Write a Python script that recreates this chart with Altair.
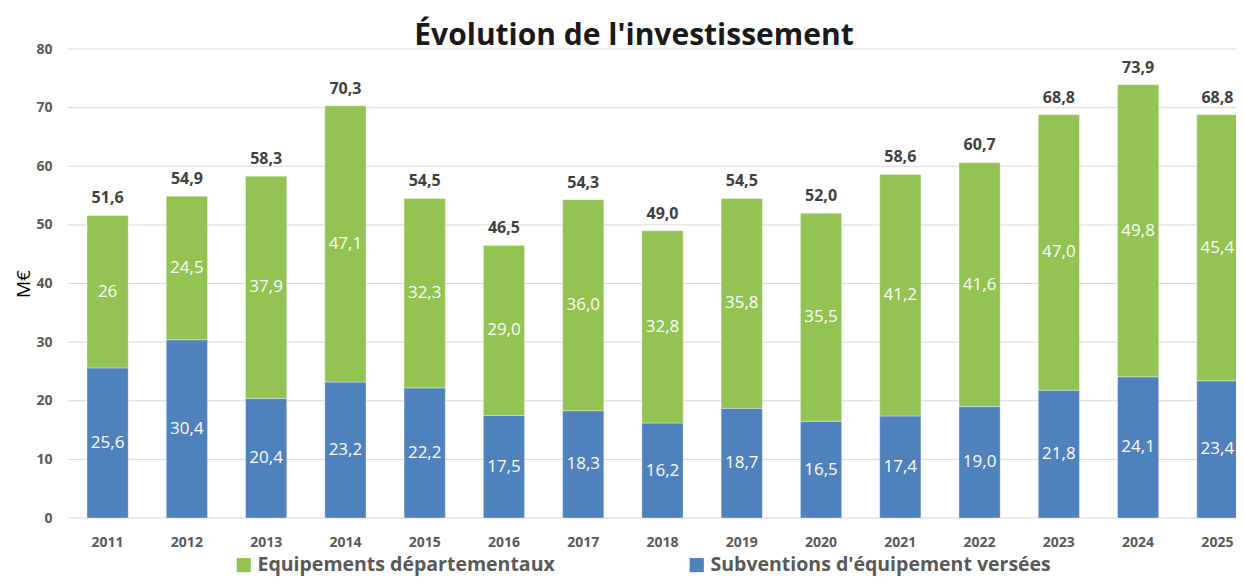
import altair as alt
import pandas as pd

years = [str(y) for y in range(2011, 2026)]
subventions = [25.6, 30.4, 20.4, 23.2, 22.2, 17.5, 18.3, 16.2, 18.7, 16.5, 17.4, 19.0, 21.8, 24.1, 23.4]
equipements = [26.0, 24.5, 37.9, 47.1, 32.3, 29.0, 36.0, 32.8, 35.8, 35.5, 41.2, 41.6, 47.0, 49.8, 45.4]
totals = [51.6, 54.9, 58.3, 70.3, 54.5, 46.5, 54.3, 49.0, 54.5, 52.0, 58.6, 60.7, 68.8, 73.9, 68.8]
sub_labels = ["25,6", "30,4", "20,4", "23,2", "22,2", "17,5", "18,3", "16,2", "18,7", "16,5", "17,4", "19,0", "21,8", "24,1", "23,4"]
equip_labels = ["26", "24,5", "37,9", "47,1", "32,3", "29,0", "36,0", "32,8", "35,8", "35,5", "41,2", "41,6", "47,0", "49,8", "45,4"]
total_labels = ["51,6", "54,9", "58,3", "70,3", "54,5", "46,5", "54,3", "49,0", "54,5", "52,0", "58,6", "60,7", "68,8", "73,9", "68,8"]
y_ticks = [0, 10, 20, 30, 40, 50, 60, 70, 80]

S_EQ = "Equipements départementaux"
S_SUB = "Subventions d'équipement versées"

rows = []
for i, y in enumerate(years):
    rows.append({"year": y, "series": S_SUB, "value": subventions[i], "label": sub_labels[i], "ord": 0})
    rows.append({"year": y, "series": S_EQ, "value": equipements[i], "label": equip_labels[i], "ord": 1})
df = pd.DataFrame(rows)
tot = pd.DataFrame({"year": years, "total": totals, "label": total_labels})
grid = pd.DataFrame({"v": y_ticks})

FONT = "Open Sans"
W, H = 1168, 469

y_scale = alt.Scale(domain=[0, 80])
y_axis = alt.Axis(values=y_ticks, labelFont=FONT, labelFontSize=14,
                  labelFontWeight="bold", labelColor="#595959", labelPadding=16,
                  domain=False, ticks=False, grid=False,
                  titleFont=FONT, titleFontSize=19, titleFontWeight="normal",
                  titleColor="#000000", titlePadding=2)

gridlines = alt.Chart(grid).mark_rule(color="#d9d9d9", strokeWidth=1).encode(
    y=alt.Y("v:Q", scale=y_scale, title="M€", axis=y_axis),
    x=alt.value(0), x2=alt.value(W),
)

x_enc = alt.X("year:N", title=None,
              scale=alt.Scale(paddingInner=0.48, paddingOuter=0, range=[19, 1170]),
              axis=alt.Axis(labelAngle=0, labelFont=FONT, labelFontSize=14, labelFontWeight="bold",
                            labelColor="#595959", labelPadding=17, domain=False, ticks=False, grid=False))

base = alt.Chart(df)
bars = base.mark_bar(stroke="white", strokeOpacity=0.35, strokeWidth=1).encode(
    x=x_enc,
    y=alt.Y("value:Q", stack="zero", scale=y_scale, title="M€", axis=y_axis),
    color=alt.Color("series:N",
                    scale=alt.Scale(domain=[S_EQ, S_SUB], range=["#92C353", "#4F81BD"]),
                    legend=alt.Legend(title=None, orient="none", legendX=166, legendY=506,
                                      direction="horizontal", columns=2, columnPadding=132,
                                      symbolType="square", symbolSize=200, symbolStrokeWidth=0,
                                      labelFont=FONT, labelFontSize=19.5, labelFontWeight="bold",
                                      labelColor="#595959", labelOffset=4, labelLimit=500)),
    order=alt.Order("ord:Q"),
)

seg_text = base.transform_stack(
    stack="value", as_=["y0", "y1"], groupby=["year"], sort=[alt.SortField("ord")]
).transform_calculate(mid="(datum.y0 + datum.y1) / 2").mark_text(
    color="white", font=FONT, fontSize=17, baseline="middle"
).encode(x=alt.X("year:N"), y=alt.Y("mid:Q", scale=y_scale, title="M€", axis=y_axis), text="label:N")

tot_text = alt.Chart(tot).mark_text(
    color="#404040", font=FONT, fontSize=16, fontWeight="bold", baseline="bottom", dy=-9
).encode(x=alt.X("year:N"), y=alt.Y("total:Q", scale=y_scale, title="M€", axis=y_axis), text="label:N")

chart = alt.layer(gridlines, bars, seg_text, tot_text).properties(
    width=W, height=H,
    title=alt.TitleParams("Évolution de l'investissement", font=FONT, fontSize=30, fontWeight="bold",
                          color="#1a1a1a", anchor="middle", dx=-18, offset=-9),
    autosize=alt.AutoSizeParams(type="none"),
    padding={"left": 60, "top": 41, "right": 0, "bottom": 59},
).configure_view(stroke=None)

chart.save("out.html", embed_options={"renderer": "svg", "actions": False})
